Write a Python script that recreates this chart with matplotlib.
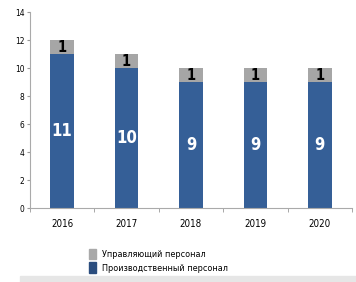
import matplotlib
matplotlib.use("Agg")
import matplotlib.pyplot as plt
import numpy as np
from matplotlib.patches import Patch

# data
years = ["2016", "2017", "2018", "2019", "2020"]
production = [11, 10, 9, 9, 9]
management = [1, 1, 1, 1, 1]
labels = ["Управляющий персонал", "Производственный персонал"]

BLUE = "#355f97"
GREY = "#a6a6a6"

plt.rcParams["font.family"] = ["Liberation Sans Narrow", "DejaVu Sans"]
plt.rcParams["font.stretch"] = "condensed"

fig = plt.figure(figsize=(3.56, 2.82), dpi=100)
ax = fig.add_axes([0.084, 0.262, 0.905, 0.695])

x = np.arange(len(years))
w = 0.37
ax.bar(x, production, w, color=BLUE, label=labels[1])
ax.bar(x, management, w, bottom=production, color=GREY, label=labels[0])

for xi, p, m in zip(x, production, management):
    ax.text(xi, p / 2, str(p), ha="center", va="center", color="white",
            fontsize=12, fontweight="bold")
    ax.text(xi, p + m / 2, str(m), ha="center", va="center", color="black",
            fontsize=10.5, fontweight="bold")

ax.set_xlim(-0.5, len(years) - 0.5)
ax.set_ylim(0, 14)
ax.set_yticks(range(0, 15, 2))
ax.set_xticks(x)
ax.set_xticklabels(years, fontsize=7)
ax.tick_params(axis="y", labelsize=6, length=2, color="#999999", pad=2)
ax.tick_params(axis="x", length=0, pad=8)
# tick marks between categories
ax.set_xticks(np.arange(-0.5, len(years) + 0.5, 1), minor=True)
ax.tick_params(axis="x", which="minor", length=3, color="#999999")

for s in ["top", "right"]:
    ax.spines[s].set_visible(False)
for s in ["left", "bottom"]:
    ax.spines[s].set_color("#aaaaaa")
    ax.spines[s].set_linewidth(0.8)

handles = [Patch(color="#a9a9a9"), Patch(color="#2b4d7e")]
fig.legend(handles, labels, loc="upper left", bbox_to_anchor=(0.25, 0.118),
           frameon=False, fontsize=6.5, handlelength=0.8, handleheight=1.4,
           handletextpad=0.6, labelspacing=0.35, borderaxespad=0, borderpad=0)

# light strip at the bottom edge
fig.patches.append(plt.Rectangle((0.056, 0.0), 0.944, 0.02, transform=fig.transFigure,
                                 color="#e6e6e6", zorder=0))

fig.savefig("out.png", dpi=100)
